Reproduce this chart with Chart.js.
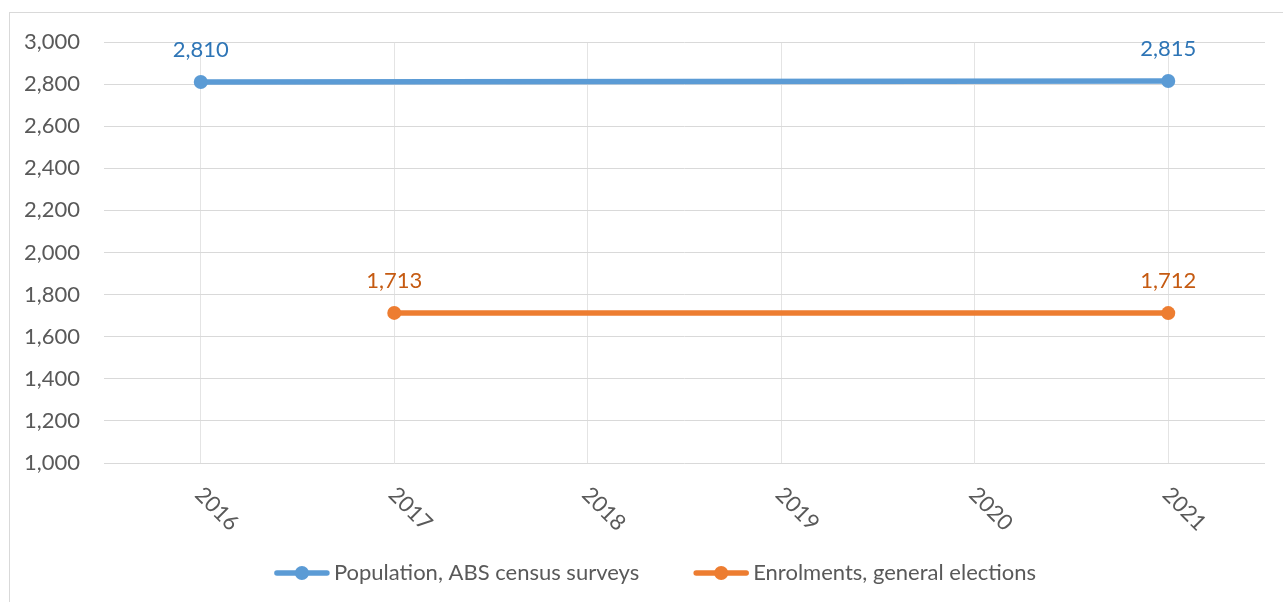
<!DOCTYPE html>
<html>
<head>
<meta charset="utf-8">
<title>Population vs enrolments</title>
<script src="https://cdn.jsdelivr.net/npm/chart.js@4.4.1/dist/chart.umd.min.js"></script>
<style>
    html, body { margin: 0; padding: 0; background: #ffffff; }
    #wrap { position: relative; width: 1283px; height: 602px; }
</style>
</head>
<body>
<div id="wrap"><canvas id="popChart"></canvas></div>
<script>
const years = ['2016', '2017', '2018', '2019', '2020', '2021'];
const population = [2810, null, null, null, null, 2815];
const enrolments = [null, 1713, null, null, null, 1712];

const seriesNames = ['Population, ABS census surveys', 'Enrolments, general elections'];
const lineColors = ['#5b9bd5', '#ed7d31'];
const labelColors = ['#2e75b6', '#c55a11'];

const FONT = 'Lato, "Open Sans", sans-serif';
const FONT_SIZE = 22;
const TEXT_GREY = '#595959';

const fmt = v => v.toLocaleString('en-US');

// frame round the whole chart, like the spreadsheet chart box
const frame = {
    id: 'frame',
    beforeDraw(chart) {
        const ctx = chart.ctx;
        ctx.save();
        ctx.fillStyle = '#ffffff';
        ctx.fillRect(0, 0, chart.width, chart.height);
        ctx.strokeStyle = '#d9d9d9';
        ctx.lineWidth = 1;
        ctx.strokeRect(9.5, 12.5, chart.width + 20, chart.height + 20);
        ctx.restore();
    }
};

// value labels above each point
const valueLabels = {
    id: 'valueLabels',
    afterDatasetsDraw(chart) {
        const ctx = chart.ctx;
        ctx.save();
        ctx.font = FONT_SIZE + 'px ' + FONT;
        ctx.textAlign = 'center';
        ctx.textBaseline = 'middle';
        chart.data.datasets.forEach((ds, i) => {
            const meta = chart.getDatasetMeta(i);
            meta.data.forEach((pt, j) => {
                if (ds.data[j] === null) return;
                ctx.fillStyle = labelColors[i];
                ctx.fillText(fmt(ds.data[j]), pt.x, pt.y - 32);
            });
        });
        ctx.restore();
    }
};

// x labels turned 45 degrees clockwise
const slantedTicks = {
    id: 'slantedTicks',
    afterDraw(chart) {
        const ctx = chart.ctx;
        const xs = chart.scales.x;
        ctx.save();
        ctx.font = FONT_SIZE + 'px ' + FONT;
        ctx.fillStyle = TEXT_GREY;
        ctx.textAlign = 'left';
        ctx.textBaseline = 'middle';
        years.forEach((y, i) => {
            const x = xs.getPixelForTick(i);
            ctx.save();
            ctx.translate(x - 2, chart.chartArea.bottom + 28);
            ctx.rotate(Math.PI / 4);
            ctx.fillText(y, 0, 0);
            ctx.restore();
        });
        ctx.restore();
    }
};

// legend with line + dot markers
const lineLegend = {
    id: 'lineLegend',
    afterDraw(chart) {
        const ctx = chart.ctx;
        const markW = 56, textGap = 4, itemGap = 54, cy = 573;
        ctx.save();
        ctx.font = FONT_SIZE + 'px ' + FONT;
        const widths = seriesNames.map(n => markW + textGap + ctx.measureText(n).width);
        const total = widths.reduce((a, b) => a + b, 0) + itemGap * (widths.length - 1);
        let x = 655 - total / 2;
        seriesNames.forEach((name, i) => {
            ctx.strokeStyle = lineColors[i];
            ctx.fillStyle = lineColors[i];
            ctx.lineWidth = 5.5;
            ctx.lineCap = 'round';
            ctx.beginPath();
            ctx.moveTo(x + 3, cy);
            ctx.lineTo(x + markW - 3, cy);
            ctx.stroke();
            ctx.beginPath();
            ctx.arc(x + markW / 2, cy, 7, 0, Math.PI * 2);
            ctx.fill();
            ctx.fillStyle = TEXT_GREY;
            ctx.textAlign = 'left';
            ctx.textBaseline = 'middle';
            ctx.fillText(name, x + markW + textGap, cy);
            x += widths[i] + itemGap;
        });
        ctx.restore();
    }
};

const ctx = document.getElementById('popChart').getContext('2d');

new Chart(ctx, {
    type: 'line',
    data: {
        labels: years,
        datasets: [
            {
                label: seriesNames[0],
                data: population,
                borderColor: lineColors[0],
                backgroundColor: lineColors[0],
                borderWidth: 5.5,
                pointRadius: 7,
                pointBorderWidth: 0,
                spanGaps: true,
                tension: 0
            },
            {
                label: seriesNames[1],
                data: enrolments,
                borderColor: lineColors[1],
                backgroundColor: lineColors[1],
                borderWidth: 5.5,
                pointRadius: 7,
                pointBorderWidth: 0,
                spanGaps: true,
                tension: 0
            }
        ]
    },
    options: {
        responsive: true,
        maintainAspectRatio: false,
        animation: false,
        layout: {
            padding: { top: 42, right: 18, bottom: 0, left: 0 }
        },
        plugins: {
            legend: { display: false },
            tooltip: { enabled: false }
        },
        scales: {
            x: {
                offset: true,
                border: { display: false },
                grid: {
                    color: '#e4e4e4',
                    drawTicks: false
                },
                ticks: { display: false },
                afterFit: scale => { scale.height = 139; }
            },
            y: {
                min: 1000,
                max: 3000,
                border: { display: false },
                grid: {
                    drawTicks: false,
                    color: c => (c.tick && c.tick.value % 200 === 0) ? '#d9d9d9' : '#f0f0f0'
                },
                ticks: {
                    stepSize: 100,
                    padding: 24,
                    color: TEXT_GREY,
                    font: { family: FONT, size: FONT_SIZE },
                    callback: v => (v % 200 === 0 ? fmt(v) : '')
                },
                afterFit: scale => { scale.width = 104; }
            }
        }
    },
    plugins: [frame, valueLabels, slantedTicks, lineLegend]
});
</script>
</body>
</html>
